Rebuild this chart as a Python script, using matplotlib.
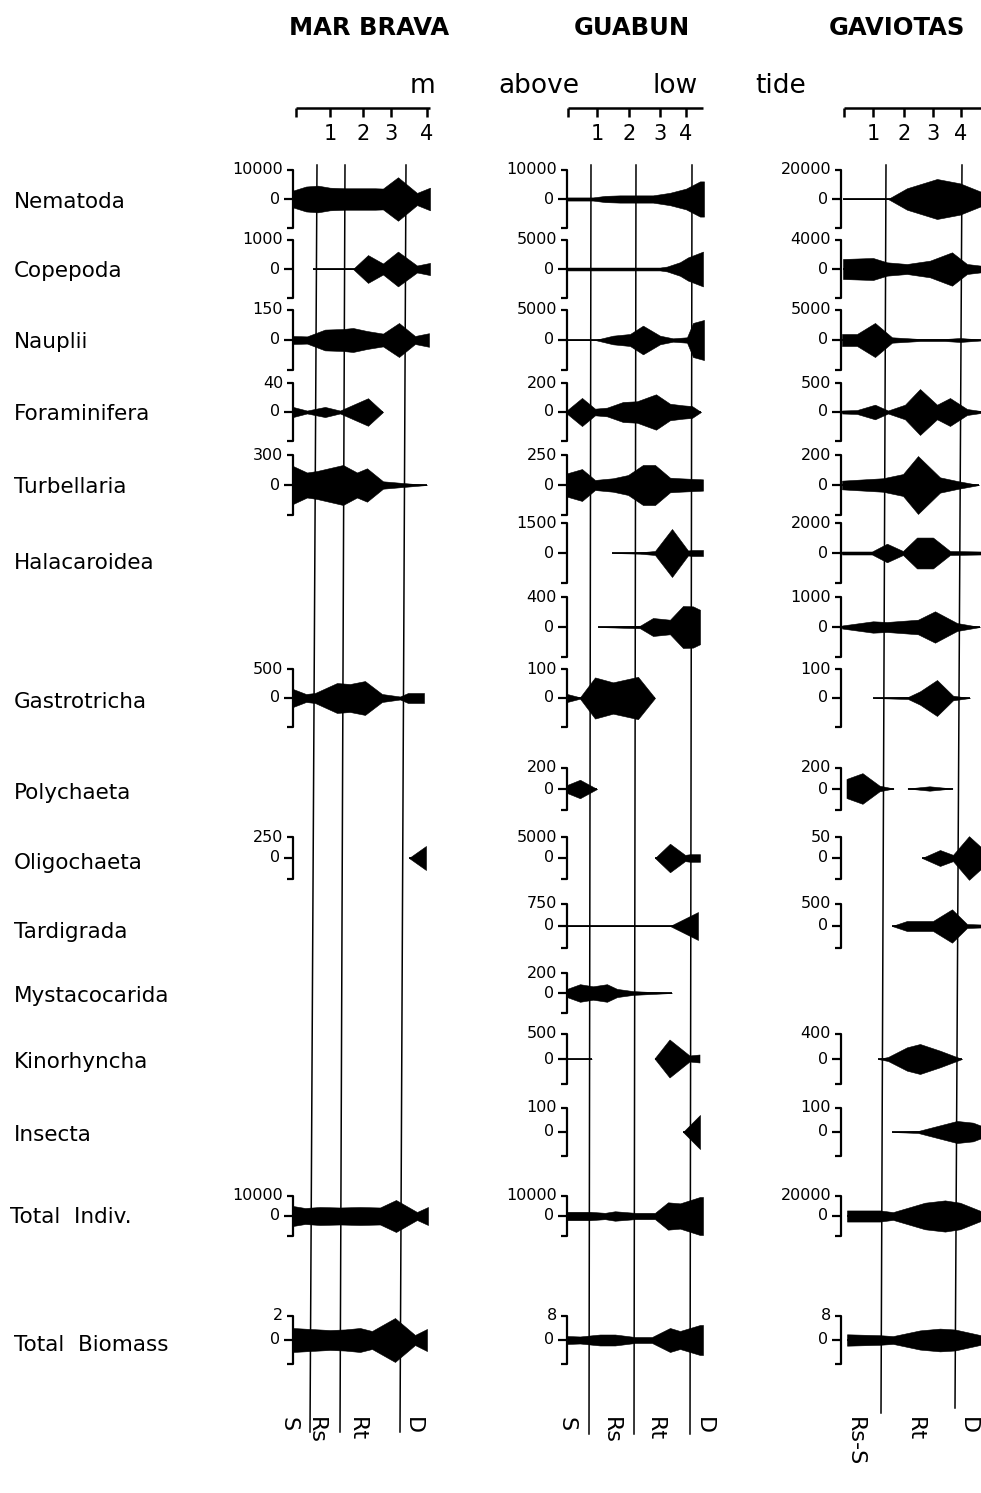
"""Kite diagrams of meiofauna density across three beach transects."""

import matplotlib

matplotlib.use("Agg")
import matplotlib.pyplot as plt
import numpy as np

nan = np.nan
W_PX, H_PX, DPI = 981, 1493, 100

# ── Rows (taxa) ───────────────────────────────────────────────────────────
ROW_KEYS = [
    "Nematoda", "Copepoda", "Nauplii", "Foraminifera", "Turbellaria",
    "Halacaroidea", "unlabelled", "Gastrotricha", "Polychaeta", "Oligochaeta",
    "Tardigrada", "Mystacocarida", "Kinorhyncha", "Insecta",
    "Total Indiv.", "Total Biomass",
]
ROW_LABELS = [
    "Nematoda", "Copepoda", "Nauplii", "Foraminifera", "Turbellaria",
    "Halacaroidea", "", "Gastrotricha", "Polychaeta", "Oligochaeta",
    "Tardigrada", "Mystacocarida", "Kinorhyncha", "Insecta",
    "Total  Indiv.", "Total  Biomass",
]
ROW_Y = [199, 269, 340, 412, 485, 553, 627, 698, 789, 858, 926, 993, 1059, 1132, 1216, 1340]
ROW_HALF = [29, 29, 30, 29, 30, 30, 30, 29, 21, 21, 22, 20, 25, 24, 20, 24]
LABEL_Y = [200, 269, 340, 412, 485, 561, 627, 700, 791, 861, 930, 994, 1060, 1133, 1215, 1343]

# ── Mar Brava ─────────────────────────────────────────────────────────────
MB_MAX = {
    "Nematoda": 10000, "Copepoda": 1000, "Nauplii": 150, "Foraminifera": 40,
    "Turbellaria": 300, "Gastrotricha": 500, "Oligochaeta": 250,
    "Total Indiv.": 10000, "Total Biomass": 2,
}
MB_KITES = {
    "Nematoda": ([0, 13, 25, 37, 52, 67, 82, 90, 105, 124, 137],
                 [2900, 4300, 4600, 3900, 3700, 3700, 3700, 3600, 7500, 2100, 3900]),
    "Copepoda": ([20, 60, 75, 90, 105, 124, 137], [0, 0, 480, 190, 600, 120, 210]),
    "Nauplii": ([0, 14, 32, 50, 60, 74, 90, 106, 122, 136],
                [20, 18, 52, 55, 60, 45, 32, 85, 20, 34]),
    "Foraminifera": ([0, 14, 32, 47, 75, 90], [7, 2, 7, 2, 19, 0]),
    "Turbellaria": ([0, 14, 24, 50, 64, 74, 90, 110, 134],
                    [190, 125, 140, 200, 125, 167, 37, 20, 0]),
    "Gastrotricha": ([0, 13, 22, 44, 57, 72, 89, 107, 115, 131],
                     [155, 69, 86, 258, 241, 292, 69, 26, 86, 86]),
    "Oligochaeta": ([116, 133], [0, 143]),
    "Total Indiv.": ([0, 12, 27, 47, 67, 87, 103, 124, 135],
                     [5000, 4000, 4500, 4250, 4500, 4250, 8000, 2000, 4500]),
    "Total Biomass": ([0, 17, 37, 52, 67, 79, 102, 122, 134],
                      [1.0, 0.92, 0.83, 0.88, 1.0, 0.75, 1.83, 0.42, 0.92]),
}
MB_TIDE = [3, 37, 70, 98, 134]
MB_TIDE_END = 137
MB_ZONE_TOP = [24, 52, 113]
MB_ZONE_BOTTOM = [17, 47, 107]
MB_ZONE_END = [1432, 1432, 1432]
MB_ZONES = ["S", "Rs", "Rt", "D"]
MB_ZONE_POS = [-4, 23, 64, 120]

# ── Guabun ────────────────────────────────────────────────────────────────
GU_MAX = {
    "Nematoda": 10000, "Copepoda": 5000, "Nauplii": 5000, "Foraminifera": 200,
    "Turbellaria": 250, "Halacaroidea": 1500, "unlabelled": 400,
    "Gastrotricha": 100, "Polychaeta": 200, "Oligochaeta": 5000,
    "Tardigrada": 750, "Mystacocarida": 200, "Kinorhyncha": 500, "Insecta": 100,
    "Total Indiv.": 10000, "Total Biomass": 8,
}
GU_KITES = {
    "Nematoda": ([0, 26, 38, 53, 86, 103, 119, 133, 137],
                 [540, 540, 1070, 1250, 1250, 2140, 3570, 6070, 6070]),
    "Copepoda": ([0, 93, 100, 113, 121, 136], [250, 250, 420, 1170, 2000, 3000]),
    "Nauplii": ([0, 28, 46, 63, 76, 93, 106, 120, 126, 137],
                [0, 0, 720, 1000, 2390, 720, 280, 450, 2840, 3340]),
    "Foraminifera": ([0, 15, 28, 40, 56, 70, 89, 103, 116, 125, 134],
                     [12, 97, 23, 30, 69, 74, 122, 57, 46, 41, 0]),
    "Turbellaria": ([0, 15, 28, 46, 61, 76, 88, 103, 113, 136],
                    [97, 133, 42, 56, 83, 167, 167, 61, 56, 47]),
    "Halacaroidea": ([45, 73, 88, 105, 121, 125, 136], [0, 35, 100, 1200, 125, 150, 150]),
    "unlabelled": ([31, 73, 86, 103, 116, 126, 133], [0, 17, 120, 97, 280, 275, 230]),
    "Gastrotricha": ([0, 13, 28, 46, 71, 88], [14, 2.4, 71, 54, 73, 0]),
    "Polychaeta": ([0, 13, 30], [38, 88, 0]),
    "Oligochaeta": ([88, 103, 118, 123, 133], [0, 3400, 750, 900, 900]),
    "Tardigrada": ([0, 103, 131], [0, 0, 476]),
    "Mystacocarida": ([0, 13, 26, 40, 50, 66, 105], [41, 88, 67, 88, 41, 19, 0]),
    "Kinorhyncha": ([0, 25, 33, 88, 103, 123, 133], [0, 0, nan, 0, 380, 60, 80]),
    "Insecta": ([116, 133], [0, 71]),
    "Total Indiv.": ([0, 23, 38, 48, 68, 88, 101, 113, 133, 136],
                     [2100, 2100, 1580, 2370, 1580, 1580, 6840, 6310, 9500, 9500]),
    "Total Biomass": ([0, 13, 33, 48, 68, 85, 103, 113, 133, 136],
                      [1.33, 1.17, 1.83, 1.83, 1.0, 1.0, 4.0, 3.0, 5.0, 5.0]),
}
GU_TIDE = [1, 30, 62, 93, 119]
GU_TIDE_END = 136
GU_ZONE_TOP = [24, 69, 125]
GU_ZONE_BOTTOM = [22, 67, 123]
GU_ZONE_END = [1434, 1434, 1434]
GU_ZONES = ["S", "Rs", "Rt", "D"]
GU_ZONE_POS = [-1, 44, 88, 137]

# ── Gaviotas ──────────────────────────────────────────────────────────────
GA_MAX = {
    "Nematoda": 20000, "Copepoda": 4000, "Nauplii": 5000, "Foraminifera": 500,
    "Turbellaria": 200, "Halacaroidea": 2000, "unlabelled": 1000,
    "Gastrotricha": 100, "Polychaeta": 200, "Oligochaeta": 50,
    "Tardigrada": 500, "Kinorhyncha": 400, "Insecta": 100,
    "Total Indiv.": 20000, "Total Biomass": 8,
}
GA_KITES = {
    "Nematoda": ([2, 47, 66, 96, 119, 144], [0, 0, 7400, 13800, 10800, 3900]),
    "Copepoda": ([2, 32, 46, 66, 89, 111, 126, 140],
                 [1380, 1520, 920, 690, 1150, 2300, 690, 460]),
    "Nauplii": ([1, 16, 34, 51, 79, 104, 119, 140],
                [1000, 1000, 2840, 450, 170, 170, 330, 80]),
    "Foraminifera": ([1, 16, 34, 47, 64, 79, 96, 109, 126, 140],
                     [26, 34, 126, 26, 126, 396, 126, 241, 52, 17]),
    "Turbellaria": ([1, 42, 62, 77, 99, 116, 138], [29, 45, 73, 193, 51, 27, 0]),
    "Halacaroidea": ([1, 31, 46, 62, 76, 92, 109, 140],
                     [100, 100, 620, 134, 1030, 1030, 134, 100]),
    "unlabelled": ([1, 32, 46, 77, 94, 116, 139], [50, 190, 167, 243, 523, 133, 0]),
    "Gastrotricha": ([32, 67, 79, 96, 112, 129], [0, 3.5, 23, 62, 8, 0]),
    "Polychaeta": ([6, 22, 39, 53, 60, 67, 89, 112], [91, 146, 27, 0, nan, 0, 21, 0]),
    "Oligochaeta": ([81, 99, 112, 128, 152], [0, 19, 7.5, 52, 0]),
    "Tardigrada": ([51, 66, 92, 111, 126, 140], [0, 114, 114, 379, 45, 34]),
    "Kinorhyncha": ([37, 47, 66, 79, 99, 121], [0, 32, 187, 240, 133, 0]),
    "Insecta": ([51, 77, 89, 116, 132, 149], [0, 4, 17, 46, 39, 12]),
    "Total Indiv.": ([6, 39, 52, 84, 104, 119, 144],
                     [5560, 5560, 3890, 13300, 15600, 13300, 3330]),
    "Total Biomass": ([6, 39, 52, 79, 99, 114, 144], [1.9, 1.6, 1.3, 3.2, 3.8, 3.5, 1.3]),
}
GA_TIDE = [3, 32, 63, 92, 120]
GA_TIDE_END = 150
GA_ZONE_TOP = [45, 121]
GA_ZONE_BOTTOM = [40, 114]
GA_ZONE_END = [1413, 1408]
GA_ZONES = ["Rs-S", "Rt", "D"]
GA_ZONE_POS = [14, 74, 127]

BEACH_NAMES = ["MAR BRAVA", "GUABUN", "GAVIOTAS"]
BRACKET_X = [293, 567, 841]
TITLE_X = [369, 632, 897]
SUBTITLE = [("m", 422), ("above", 539), ("low", 675), ("tide", 781)]


def _kite(ax, pos, vals, yc, half, vmax):
    pos = np.asarray(pos, dtype=float)
    v = np.asarray(vals, dtype=float)
    hw = v / vmax * half
    ax.fill_between(pos, yc - hw, yc + hw, color="black", lw=0.4, edgecolor="black")
    ax.plot(pos, np.where(np.isnan(v), np.nan, yc), color="black", lw=1.3,
            solid_capstyle="butt")


def _bracket(ax, yc, half, vmax):
    kw = dict(color="black", lw=1.6, solid_capstyle="butt")
    ax.plot([-6, 0, 0, -6], [yc - half, yc - half, yc + half, yc + half], **kw)
    ax.plot([-9, 0], [yc, yc], **kw)
    ax.text(-10, yc - half, f"{vmax:g}", ha="right", va="center", fontsize=11.5)
    ax.text(-13, yc, "0", ha="right", va="center", fontsize=11.5)


def _column(fig, bx, kites, vmax, tide, tide_end, z_top, z_bot, z_end, zones, zone_pos):
    left, right = 80, 160
    ax = fig.add_axes([(bx - left) / W_PX, 0, (left + right) / W_PX, 1])
    ax.set_xlim(-left, right)
    ax.set_ylim(H_PX, 0)
    ax.axis("off")

    # height-above-low-tide scale
    kw = dict(color="black", lw=1.8, solid_capstyle="butt")
    ax.plot([tide[0], tide_end], [108, 108], **kw)
    for i, t in enumerate(tide):
        ax.plot([t, t], [108, 117], **kw)
        if i:
            ax.text(t, 140, str(i), ha="center", va="baseline", fontsize=15)

    # zone boundaries
    for xt, xb, yb in zip(z_top, z_bot, z_end):
        ax.plot([xt, xb], [165, yb], color="black", lw=1.1)
    for name, zp in zip(zones, zone_pos):
        ax.text(zp, 1417, name, rotation=270, ha="center", va="top", fontsize=16)

    for key, yc, half in zip(ROW_KEYS, ROW_Y, ROW_HALF):
        if key not in kites:
            continue
        pos, vals = kites[key]
        _bracket(ax, yc, half, vmax[key])
        _kite(ax, pos, vals, yc, half, vmax[key])
    return ax


def main() -> None:
    fig = plt.figure(figsize=(W_PX / DPI, H_PX / DPI), dpi=DPI)
    fig.patch.set_facecolor("white")

    bg = fig.add_axes([0, 0, 1, 1])
    bg.set_xlim(0, W_PX)
    bg.set_ylim(H_PX, 0)
    bg.axis("off")

    for name, tx in zip(BEACH_NAMES, TITLE_X):
        bg.text(tx, 35, name, ha="center", va="baseline", fontsize=17.5, fontweight="bold")
    for word, cx in SUBTITLE:
        bg.text(cx, 93, word, ha="center", va="baseline", fontsize=19)
    for label, ly in zip(ROW_LABELS, LABEL_Y):
        if label:
            x0 = 10 if label.startswith("Total  I") else 14
            bg.text(x0, ly + 8, label, ha="left", va="baseline", fontsize=15.5)

    _column(fig, BRACKET_X[0], MB_KITES, MB_MAX, MB_TIDE, MB_TIDE_END,
            MB_ZONE_TOP, MB_ZONE_BOTTOM, MB_ZONE_END, MB_ZONES, MB_ZONE_POS)
    _column(fig, BRACKET_X[1], GU_KITES, GU_MAX, GU_TIDE, GU_TIDE_END,
            GU_ZONE_TOP, GU_ZONE_BOTTOM, GU_ZONE_END, GU_ZONES, GU_ZONE_POS)
    _column(fig, BRACKET_X[2], GA_KITES, GA_MAX, GA_TIDE, GA_TIDE_END,
            GA_ZONE_TOP, GA_ZONE_BOTTOM, GA_ZONE_END, GA_ZONES, GA_ZONE_POS)

    fig.savefig("out.png", dpi=DPI)
    plt.close(fig)


if __name__ == "__main__":
    main()
